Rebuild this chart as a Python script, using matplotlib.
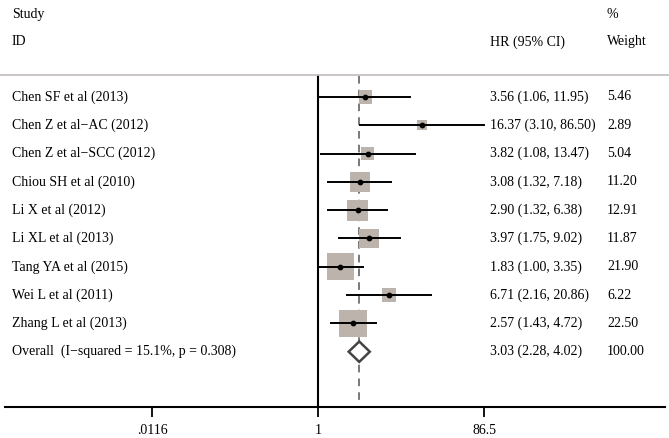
import numpy as np
import matplotlib.pyplot as plt
from matplotlib.patches import Polygon
import matplotlib.transforms as mtransforms

studies = ["Chen SF et al (2013)", "Chen Z et al\u2212AC (2012)", "Chen Z et al\u2212SCC (2012)",
           "Chiou SH et al (2010)", "Li X et al (2012)", "Li XL et al (2013)",
           "Tang YA et al (2015)", "Wei L et al (2011)", "Zhang L et al (2013)"]
hr = [3.56, 16.37, 3.82, 3.08, 2.90, 3.97, 1.83, 6.71, 2.57]
lo = [1.06, 3.10, 1.08, 1.32, 1.32, 1.75, 1.00, 2.16, 1.43]
hi = [11.95, 86.50, 13.47, 7.18, 6.38, 9.02, 3.35, 20.86, 4.72]
weight = [5.46, 2.89, 5.04, 11.20, 12.91, 11.87, 21.90, 6.22, 22.50]
overall_label = "Overall  (I\u2212squared = 15.1%, p = 0.308)"
overall = (3.03, 2.28, 4.02)
overall_weight = 100.00
xticks = [0.0116, 1, 86.5]
xticklabels = [".0116", "1", "86.5"]

W, H = 669, 438
plt.rcParams['font.family'] = ['Liberation Serif', 'DejaVu Serif']
fig = plt.figure(figsize=(W / 100, H / 100), dpi=100)

# axes: left 5px .. right 665px, top 0 .. bottom 407px
ax = fig.add_axes([5 / W, (H - 407) / H, 660 / W, 407 / H])
ax.set_xscale('log')
ppd = 85.7  # pixels per decade
ax.set_xlim(10 ** ((5 - 318) / ppd), 10 ** ((665 - 318) / ppd))
row0, step = 97, 28.3
ax.set_ylim((407 - row0) / step, -row0 / step)

def py(p):
    return (p - row0) / step

def px(p):
    return (p - 5) / 660

fs = 10
tr = mtransforms.blended_transform_factory(ax.transAxes, ax.transData)

# header
ax.text(px(12), py(15), "Study", transform=tr, fontsize=fs, va='center', clip_on=False)
ax.text(px(12), py(42), "ID", transform=tr, fontsize=fs, va='center', clip_on=False)
ax.text(px(490), py(42), "HR (95% CI)", transform=tr, fontsize=fs, va='center', clip_on=False)
ax.text(px(607), py(15), "%", transform=tr, fontsize=fs, va='center', clip_on=False)
ax.text(px(607), py(42), "Weight", transform=tr, fontsize=fs, va='center', clip_on=False)
ax.plot([px(0), px(669)], [py(75), py(75)], transform=tr, color='#c2bcbc', lw=1.2, clip_on=False)

top = py(76)
bot = ax.get_ylim()[0]
ax.plot([1, 1], [top, bot], color='black', lw=1.5, zorder=1)
ax.plot([overall[0], overall[0]], [top, bot], color='#555555', lw=1.1, ls=(0, (5, 4)), zorder=1)

ys = np.arange(len(studies))
for i in range(len(studies)):
    ax.plot([lo[i], hi[i]], [ys[i], ys[i]], color='black', lw=1.4, zorder=3)
ax.scatter(hr, ys, s=np.array(weight) * 17.3, marker='s', color='#bdb3ad', edgecolor='none', zorder=2)
ax.scatter(hr, ys, s=10, marker='o', color='black', zorder=4)

for i in range(len(studies)):
    ax.text(px(12), ys[i], studies[i], transform=tr, fontsize=fs, va='center')
    ax.text(px(490), ys[i], f"{hr[i]:.2f} ({lo[i]:.2f}, {hi[i]:.2f})", transform=tr, fontsize=fs, va='center')
    ax.text(px(607), ys[i], f"{weight[i]:.2f}", transform=tr, fontsize=fs, va='center')

yo = len(studies)
dh = 0.36
diamond = Polygon([(overall[1], yo), (overall[0], yo - dh), (overall[2], yo), (overall[0], yo + dh)],
                  closed=True, facecolor='white', edgecolor='#444444', lw=1.8, zorder=5)
ax.add_patch(diamond)
ax.text(px(12), yo, overall_label, transform=tr, fontsize=fs, va='center')
ax.text(px(490), yo, f"{overall[0]:.2f} ({overall[1]:.2f}, {overall[2]:.2f})", transform=tr, fontsize=fs, va='center')
ax.text(px(607), yo, f"{overall_weight:.2f}", transform=tr, fontsize=fs, va='center')

for s in ['top', 'left', 'right']:
    ax.spines[s].set_visible(False)
ax.spines['bottom'].set_linewidth(1.5)
ax.set_yticks([])
ax.set_xticks(xticks)
ax.set_xticklabels(xticklabels)
ax.minorticks_off()
ax.tick_params(axis='x', length=7, width=1.3, labelsize=fs, pad=5)

fig.savefig("out.png", dpi=100)
